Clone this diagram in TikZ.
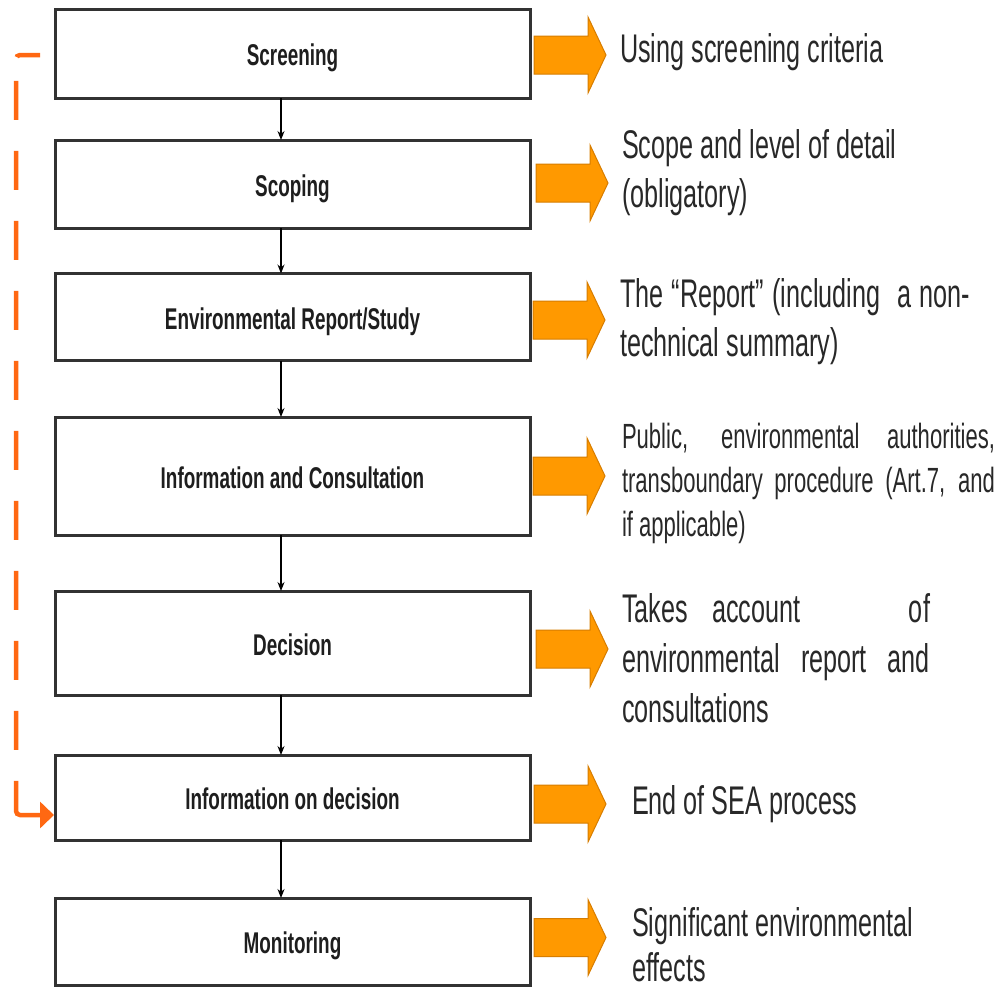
\documentclass[tikz,border=0pt]{standalone}
\usepackage{fontspec}
\setmainfont[FakeStretch=0.63]{Liberation Sans}
\usetikzlibrary{arrows.meta,calc}
\definecolor{boxline}{RGB}{50,50,50}
\definecolor{labeltext}{RGB}{30,30,30}
\definecolor{desctext}{RGB}{40,40,40}
\definecolor{blockfill}{RGB}{255,153,0}
\definecolor{blockline}{RGB}{215,125,0}
\definecolor{feedorange}{RGB}{255,104,18}
\tikzset{
  stepbox/.style={draw=boxline, line width=3pt, fill=white, minimum width=475pt,
    inner sep=0pt, outer sep=0pt, text height=24pt, text depth=0pt,
    text=labeltext, font=\bfseries\fontsize{30}{36}\selectfont},
  conn/.style={draw=black, line width=1.2pt, -{Stealth[length=9pt,width=7pt]}},
  desc/.style={anchor=base west, inner sep=0pt, outer sep=0pt, text=desctext,
    font=\fontsize{40}{49}\selectfont},
  descsmall/.style={desc, font=\fontsize{35}{44}\selectfont},
  blockarrow/.pic={\draw[fill=blockfill, draw=blockline, line width=1pt]
    (0,-19) -- (54,-19) -- (54,-38) -- (72,0) -- (54,38) -- (54,19) -- (0,19) -- cycle;},
  feedback/.style={draw=feedorange, line width=4.5pt, rounded corners=4pt,
    dash pattern=on 24pt off 24pt on 39pt off 31pt on 39pt off 31pt on 39pt off 31pt
      on 39pt off 31pt on 39pt off 31pt on 39pt off 31pt on 39pt off 31pt
      on 39pt off 31pt on 39pt off 31pt on 39pt off 31pt on 200pt off 1pt,
    -{Triangle[length=14pt,width=26pt]}}
}
\begin{document}
\begin{tikzpicture}[x=1pt,y=-1pt]
\useasboundingbox (0,0) rectangle (998,988);
\fill[white] (0,0) rectangle (998,988);

% process boxes
\node[stepbox, minimum height=89pt]  (screen)  at (292.5,53.5) {Screening};
\node[stepbox, minimum height=88pt]  (scope)   at (292.5,184)  {Scoping};
\node[stepbox, minimum height=87pt]  (report)  at (292.5,317)  {Environmental Report/Study};
\node[stepbox, minimum height=118pt] (consult) at (292.5,476)  {Information and Consultation};
\node[stepbox, minimum height=104pt] (decide)  at (292.5,643)  {Decision};
\node[stepbox, minimum height=85pt]  (infodec) at (292.5,797.5){Information on decision};
\node[stepbox, minimum height=87pt]  (monitor) at (292.5,941.5){Monitoring};

% vertical connectors
\coordinate (cx) at (281,0);
\draw[conn] (screen.south -| cx)  -- (scope.north -| cx);
\draw[conn] (scope.south -| cx)   -- (report.north -| cx);
\draw[conn] (report.south -| cx)  -- (consult.north -| cx);
\draw[conn] (consult.south -| cx) -- (decide.north -| cx);
\draw[conn] (decide.south -| cx)  -- (infodec.north -| cx);
\draw[conn] (infodec.south -| cx) -- (monitor.north -| cx);

% feedback dashed line
\coordinate (fbstart) at (40,55);
\coordinate (fbtop) at (16,55);
\coordinate (fbbot) at (16,815);
\draw[feedback] (fbstart) -- (fbtop) -- (fbbot) -- ($(infodec.west |- fbbot)+(-1,0)$);

% block arrows
\pic at (534,55)    {blockarrow};
\pic at (536,183)   {blockarrow};
\pic at (533,320)   {blockarrow};
\pic at (533,476)   {blockarrow};
\pic at (536,649)   {blockarrow};
\pic at (534,804)   {blockarrow};
\pic at (534,937.5) {blockarrow};

% descriptions
\node[desc] (d1) at (620,62) {Using screening criteria};
\node[desc] (d2) at (622,158) {\parbox[t]{330pt}{Scope and level of detail\\(obligatory)}};
\node[desc] (d3) at (620,307) {\parbox[t]{360pt}{\makebox[350pt][s]{The “Report” (including \ a non-}\\technical summary)}};
\node[descsmall] (d4) at (622,448) {\parbox[t]{373pt}{\makebox[373pt][s]{Public, environmental authorities,}\\\makebox[373pt][s]{transboundary procedure (Art.7, and}\\if applicable)}};
\node[desc, font=\fontsize{40}{50}\selectfont] (d5) at (622,622) {\parbox[t]{310pt}{\makebox[308pt][s]{Takes account \hspace{60pt} of}\\\makebox[308pt][s]{environmental report and}\\consultations}};
\node[desc] (d6) at (632,814) {End of SEA process};
\node[desc, font=\fontsize{40}{45}\selectfont] (d7) at (632,936) {\parbox[t]{330pt}{Significant environmental\\effects}};
\end{tikzpicture}
\end{document}
